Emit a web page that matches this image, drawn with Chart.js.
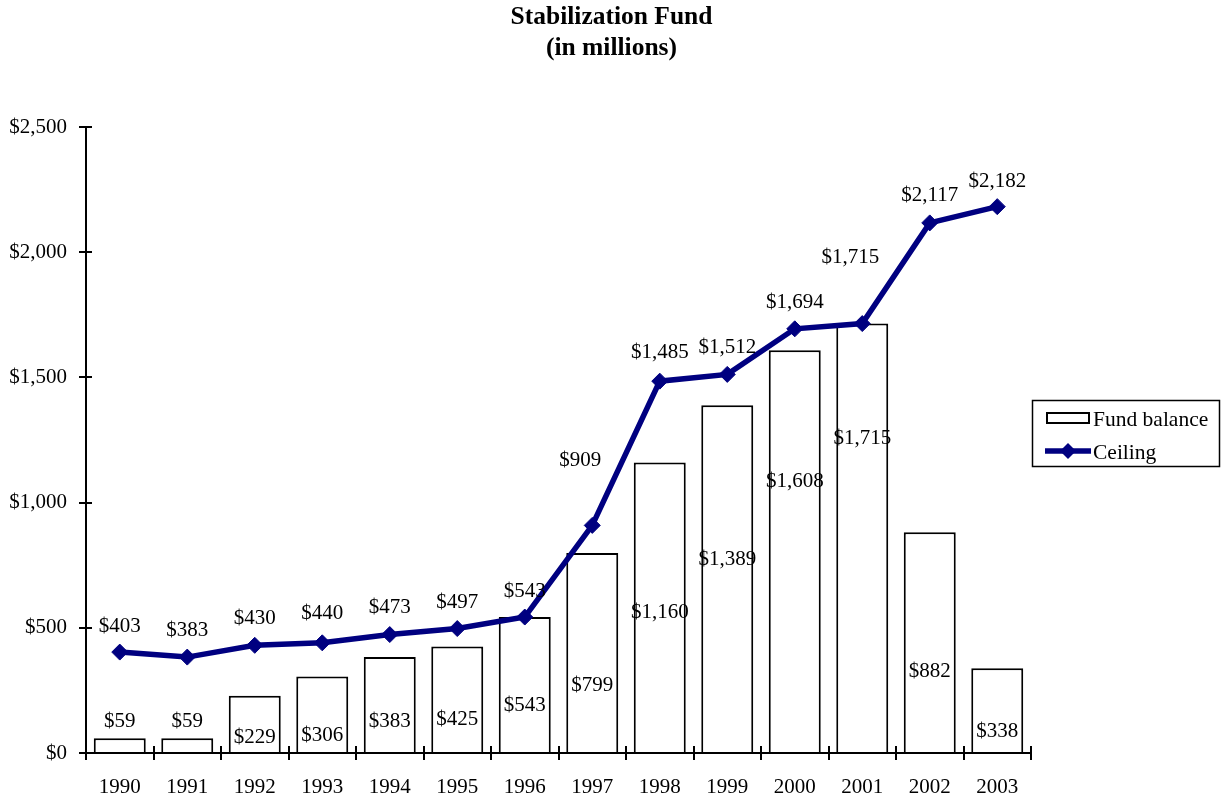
<!DOCTYPE html>
<html>
<head>
<meta charset="utf-8">
<script src="https://cdn.jsdelivr.net/npm/chart.js@4"></script>
<style>
	body { margin: 0; background: #fff; }
</style>
</head>
<body>
<canvas id="myChart" width="1221" height="802"></canvas>
<script>
const titleLines = ['Stabilization Fund', '(in millions)'];
const years = ['1990', '1991', '1992', '1993', '1994', '1995', '1996', '1997', '1998', '1999', '2000', '2001', '2002', '2003'];
const fundBalance = [59, 59, 229, 306, 383, 425, 543, 799, 1160, 1389, 1608, 1715, 882, 338];
const ceiling = [403, 383, 430, 440, 473, 497, 543, 909, 1485, 1512, 1694, 1715, 2117, 2182];
const yTicks = [0, 500, 1000, 1500, 2000, 2500];

const serif = '"Liberation Serif", "Times New Roman", serif';
const navy = '#000080';

function money(v) {
	return '$' + v.toLocaleString('en-US');
}

// where the value labels sit (in axis units)
const balanceLabelAt = [124, 124, 60, 68, 124, 132, 188, 268, 563, 771, 1086, 1258, 327, 84];
const ceilingLabelAt = [507, 491, 539, 559, 583, 603, 647, 1170, 1601, 1621, 1801, 1977, 2228, 2284];
const ceilingLabelShift = [0, 0, 0, 0, 0, 0, 0, -12, 0, 0, 0, -12, 0, 0];

const valueLabels = {
	id: 'valueLabels',
	afterDatasetsDraw(chart) {
		let ctx = chart.ctx;
		let y = chart.scales.y;
		ctx.save();
		ctx.font = '21px ' + serif;
		ctx.fillStyle = '#000';
		ctx.textAlign = 'center';
		ctx.textBaseline = 'middle';
		chart.getDatasetMeta(1).data.forEach((bar, i) => {
			ctx.fillText(money(fundBalance[i]), bar.x, y.getPixelForValue(balanceLabelAt[i]));
		});
		chart.getDatasetMeta(0).data.forEach((pt, i) => {
			ctx.fillText(money(ceiling[i]), pt.x + ceilingLabelShift[i], y.getPixelForValue(ceilingLabelAt[i]));
		});
		ctx.restore();
	}
};

// tick marks cross the axis lines: draw the inner half
const innerTicks = {
	id: 'innerTicks',
	afterDraw(chart) {
		let ctx = chart.ctx;
		let area = chart.chartArea;
		let x = chart.scales.x, y = chart.scales.y;
		ctx.save();
		ctx.strokeStyle = '#000';
		ctx.lineWidth = 2;
		ctx.beginPath();
		yTicks.forEach(v => {
			let py = Math.round(y.getPixelForValue(v));
			ctx.moveTo(area.left, py);
			ctx.lineTo(area.left + 6, py);
		});
		let step = (area.right - area.left) / years.length;
		for (let i = 1; i <= years.length; i++) {
			let px = Math.round(area.left + i * step);
			ctx.moveTo(px, area.bottom);
			ctx.lineTo(px, area.bottom - 7);
		}
		ctx.stroke();
		ctx.restore();
	}
};

const titleAndLegend = {
	id: 'titleAndLegend',
	afterDraw(chart) {
		let ctx = chart.ctx;
		ctx.save();
		// title
		ctx.fillStyle = '#000';
		ctx.textAlign = 'center';
		ctx.textBaseline = 'middle';
		ctx.font = 'bold 25.5px ' + serif;
		ctx.fillText(titleLines[0], chart.width / 2 + 1, 17);
		ctx.fillText(titleLines[1], chart.width / 2 + 1, 48);

		// legend box
		ctx.strokeStyle = '#000';
		ctx.lineWidth = 1.5;
		ctx.strokeRect(1032.5, 400.5, 187, 66);

		// fund balance swatch
		ctx.fillStyle = '#fff';
		ctx.fillRect(1047, 413, 42, 10);
		ctx.lineWidth = 2;
		ctx.strokeRect(1047, 413, 42, 10);

		// ceiling swatch
		ctx.strokeStyle = navy;
		ctx.lineWidth = 5.5;
		ctx.beginPath();
		ctx.moveTo(1045, 451);
		ctx.lineTo(1091, 451);
		ctx.stroke();
		ctx.fillStyle = navy;
		ctx.beginPath();
		ctx.moveTo(1068, 443);
		ctx.lineTo(1076, 451);
		ctx.lineTo(1068, 459);
		ctx.lineTo(1060, 451);
		ctx.closePath();
		ctx.fill();

		ctx.fillStyle = '#000';
		ctx.textAlign = 'left';
		ctx.font = '21.5px ' + serif;
		ctx.fillText('Fund balance', 1093, 420);
		ctx.fillText('Ceiling', 1093, 453);
		ctx.restore();
	}
};

let ctx = document.getElementById('myChart');

let myChart = new Chart(ctx, {
	type: 'bar',
	data: {
		labels: years,
		datasets: [{
			type: 'line',
			label: 'Ceiling',
			data: ceiling,
			borderColor: navy,
			backgroundColor: navy,
			borderWidth: 5.5,
			pointStyle: 'rectRot',
			pointRadius: 8,
			pointBackgroundColor: navy,
			pointBorderColor: navy,
			pointBorderWidth: 1,
			tension: 0,
			order: 0
		}, {
			type: 'bar',
			label: 'Fund balance',
			data: fundBalance,
			backgroundColor: '#fff',
			borderColor: '#000',
			borderWidth: 2,
			borderSkipped: 'bottom',
			barPercentage: 0.77,
			categoryPercentage: 1,
			order: 1
		}]
	},
	options: {
		responsive: false,
		animation: false,
		layout: {
			padding: { top: 127, right: 190, bottom: 0, left: 0 }
		},
		plugins: {
			legend: { display: false },
			title: { display: false },
			tooltip: { enabled: false }
		},
		scales: {
			x: {
				offset: true,
				grid: {
					offset: true,
					drawOnChartArea: false,
					drawTicks: true,
					tickLength: 7,
					color: '#000',
					lineWidth: 2
				},
				border: { display: true, color: '#000', width: 2 },
				ticks: {
					color: '#000',
					font: { family: serif, size: 21 },
					padding: 15,
					maxRotation: 0
				},
				afterFit(scale) {
					scale.height = 49;
				}
			},
			y: {
				min: 0,
				max: 2500,
				afterBuildTicks(scale) {
					scale.ticks = yTicks.map(v => ({ value: v }));
				},
				grid: {
					drawOnChartArea: false,
					drawTicks: true,
					tickLength: 7,
					color: '#000',
					lineWidth: 2
				},
				border: { display: true, color: '#000', width: 2 },
				ticks: {
					color: '#000',
					font: { family: serif, size: 21 },
					padding: 12,
					callback: v => money(v)
				},
				afterFit(scale) {
					scale.width = 86;
				}
			}
		}
	},
	plugins: [valueLabels, innerTicks, titleAndLegend]
});
</script>
</body>
</html>
